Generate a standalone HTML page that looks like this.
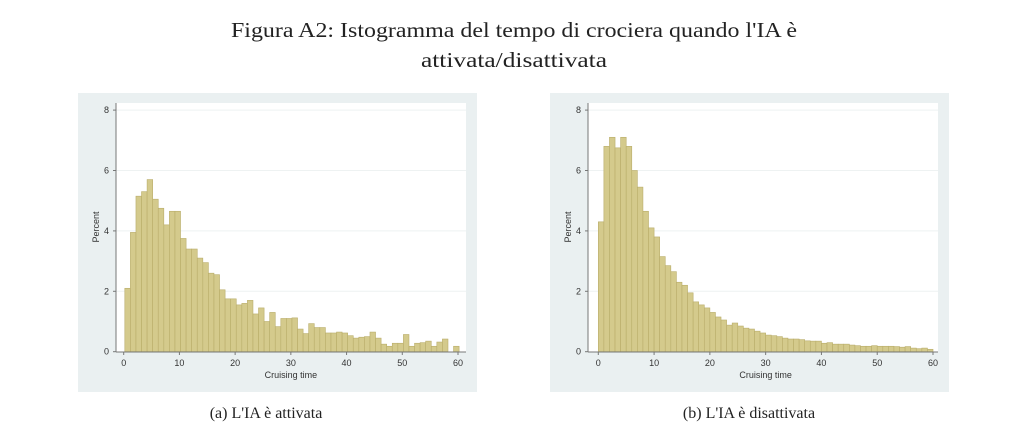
<!DOCTYPE html>
<html><head><meta charset="utf-8"><style>
html,body{margin:0;padding:0;background:#fff;}
svg{display:block}
</style></head><body>
<svg id="s" width="1024" height="444" xmlns="http://www.w3.org/2000/svg" font-family="Liberation Sans, sans-serif">
<rect width="1024" height="444" fill="#fff"/>
<text x="514" y="37" font-family="Liberation Serif, serif" font-size="21" text-anchor="middle" textLength="566" lengthAdjust="spacingAndGlyphs" fill="#222">Figura A2: Istogramma del tempo di crociera quando l'IA è</text>
<text x="514" y="67" font-family="Liberation Serif, serif" font-size="21" text-anchor="middle" textLength="186" lengthAdjust="spacingAndGlyphs" fill="#222">attivata/disattivata</text>
<text x="266" y="418" font-family="Liberation Serif, serif" font-size="16" text-anchor="middle" fill="#222">(a) L'IA è attivata</text>
<text x="749" y="418" font-family="Liberation Serif, serif" font-size="16" text-anchor="middle" fill="#222">(b) L'IA è disattivata</text>
<g id="g"></g>
</svg>
<script>
var L=[2.1,3.95,5.15,5.3,5.7,5.05,4.75,4.2,4.65,4.65,3.75,3.4,3.4,3.1,2.95,2.6,2.55,2.05,1.75,1.75,1.55,1.6,1.7,1.25,1.45,1.0,1.3,0.83,1.1,1.1,1.12,0.75,0.6,0.93,0.8,0.8,0.62,0.62,0.65,0.62,0.53,0.45,0.48,0.5,0.65,0.45,0.25,0.18,0.28,0.28,0.57,0.18,0.28,0.3,0.35,0.18,0.32,0.42,0,0.18];
var R=[4.3,6.8,7.1,6.75,7.1,6.8,6.0,5.45,4.65,4.1,3.8,3.15,2.85,2.65,2.3,2.2,1.95,1.65,1.55,1.45,1.3,1.15,1.05,0.88,0.95,0.85,0.78,0.75,0.68,0.62,0.55,0.53,0.5,0.45,0.42,0.42,0.4,0.36,0.35,0.35,0.28,0.3,0.25,0.25,0.25,0.22,0.2,0.18,0.18,0.2,0.18,0.18,0.18,0.17,0.15,0.17,0.12,0.1,0.12,0.08];
var h='';
function panel(ox,x0,x60,data,off){
  var y0=351.7,yu=30.2,xu=(x60-x0)/60;
  h+='<rect x="'+ox+'" y="93" width="399" height="299" fill="#eaf0f1"/>';
  h+='<rect x="'+(ox+38)+'" y="103" width="350" height="249" fill="#fff"/>';
  for(var k=2;k<=8;k+=2){var y=y0-k*yu;h+='<line x1="'+(ox+38)+'" x2="'+(ox+388)+'" y1="'+y+'" y2="'+y+'" stroke="#eef2f2" stroke-width="1"/>';}
  for(var i=0;i<60;i++){var v=data[i];if(v<=0)continue;var x=x0+(i+off)*xu;var y=y0-v*yu;
    h+='<rect x="'+x.toFixed(2)+'" y="'+y.toFixed(2)+'" width="'+xu.toFixed(2)+'" height="'+(v*yu).toFixed(2)+'" fill="#d4ca8c" stroke="#b9ad6a" stroke-width="0.6"/>';}
  h+='<line x1="'+(ox+38)+'" x2="'+(ox+38)+'" y1="103" y2="352" stroke="#777" stroke-width="1"/>';
  h+='<line x1="'+(ox+38)+'" x2="'+(ox+388)+'" y1="352" y2="352" stroke="#777" stroke-width="1"/>';
  for(var k=0;k<=8;k+=2){var y=y0-k*yu;h+='<line x1="'+(ox+35)+'" x2="'+(ox+38)+'" y1="'+y+'" y2="'+y+'" stroke="#777"/><text x="'+(ox+31)+'" y="'+(y+3)+'" font-size="9" text-anchor="end" fill="#333">'+k+'</text>';}
  for(var k=0;k<=60;k+=10){var x=x0+k*xu;h+='<line x1="'+x+'" x2="'+x+'" y1="352" y2="355" stroke="#777"/><text x="'+x+'" y="366" font-size="9" text-anchor="middle" fill="#333">'+k+'</text>';}
  h+='<text x="'+((x0+x60)/2)+'" y="378" font-size="9" text-anchor="middle" fill="#333">Cruising time</text>';
  h+='<text transform="translate('+(ox+21)+',227) rotate(-90)" font-size="9" text-anchor="middle" fill="#333">Percent</text>';
}
panel(78,123.7,458,L,0.2);
panel(550,598.3,933,R,0);
document.getElementById('g').innerHTML=h;
</script>
</body></html>
